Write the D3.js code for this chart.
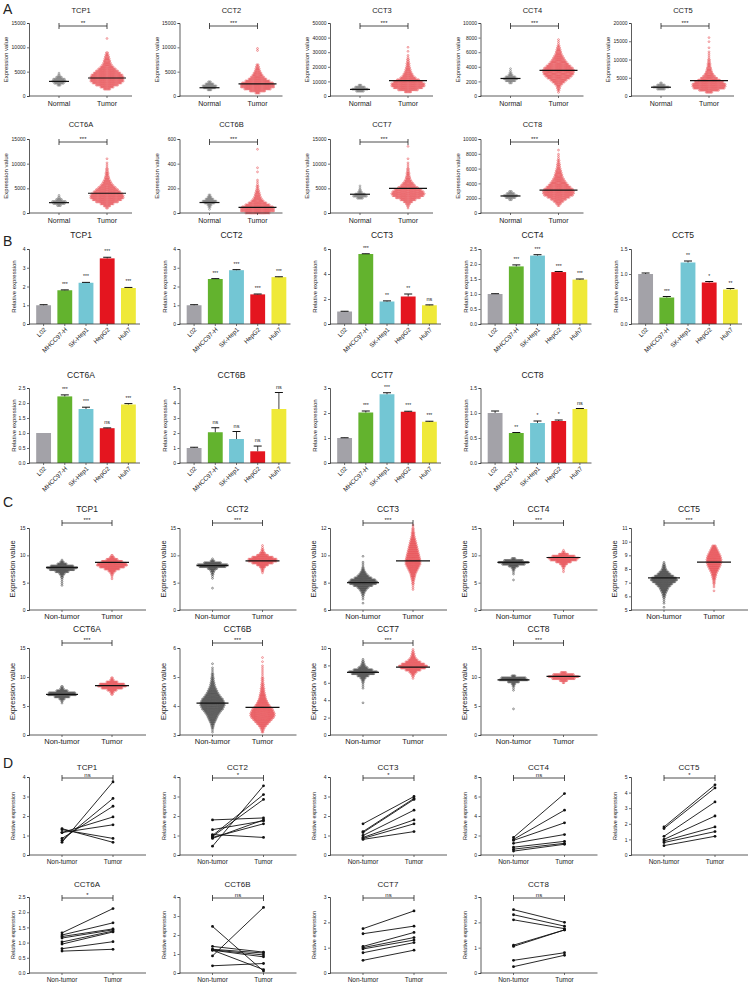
<!DOCTYPE html>
<html><head><meta charset="utf-8">
<script src="https://cdn.jsdelivr.net/npm/d3@7"></script>
<style>body{margin:0;background:#fff} text{font-family:"Liberation Sans",Arial,sans-serif;fill:#222}</style>
</head><body><svg id="c" width="750" height="987"></svg>
<script>
// ---------------- DATA ----------------
const genes = ["TCP1","CCT2","CCT3","CCT4","CCT5","CCT6A","CCT6B","CCT7","CCT8"];

// Panel A: expression (Normal vs Tumor), dot counts per value bin (bin = yMax/36)
const aYMax  = [15000,15000,50000,10000,20000,15000,600,15000,10000];
const aYStep = [5000,5000,10000,2000,5000,5000,200,5000,2000];
const aSig   = ["**","***","***","***","***","***","***","***","***"];
const aCats  = ["Normal","Tumor"];
const aNormalStart = [2200,1250,3300,1800,1900,1500,30,3000,1800];
const aNormalCounts = [
  [3,10,14,12,6,2,1],[4,12,14,8,3],[8,16,10,3],[3,10,14,10,4,2,1,1],[8,16,8,2],
  [4,12,14,6,2,1],[1,2,4,10,14,8,4,2],[6,14,10,4,2,1,1],[3,10,14,8,3]];
const aNormalMedian = [3000,1700,4500,2400,2400,2100,85,3800,2300];
const aTumorStart = [1400,600,2800,500,1000,1000,0,1000,1000];
const aTumorCounts = [
  [6,12,20,26,30,30,30,28,24,20,16,12,9,7,6,5,4,3,2,0,0,0,0,0,0,1],
  [4,14,24,30,30,28,22,16,12,9,7,5,4,3,2,0,0,0,0,0,0,1,1],
  [6,18,26,30,30,26,20,14,10,8,6,5,4,3,3,2,2,1,1,0,1,0,1],
  [1,2,3,4,7,11,15,20,24,27,28,28,26,22,18,15,12,10,8,6,5,4,3,2,1,1,1],
  [6,18,28,30,30,26,20,15,11,8,6,5,4,3,3,2,2,1,1,1,1,0,1,0,0,1,0,1],
  [2,6,12,20,26,30,30,28,24,20,16,12,9,7,5,4,3,3,2,2,1,1,1,0,1],
  [22,30,30,28,22,16,11,8,6,5,4,3,2,2,1,1,1,0,0,0,1,0,1,0,0,0,0,0,0,0,0,1],
  [1,2,4,8,14,22,28,30,28,24,18,13,10,7,5,4,3,3,2,2,1,1,1,0,1,0,0,0,0,0,1],
  [2,5,9,14,20,26,28,28,26,22,18,15,12,10,8,7,6,5,4,3,3,2,2,1,1,1,0,1]];
const aTumorMedian = [3700,2500,10500,3500,4200,4000,45,5000,3100];

// Panel B: relative expression in cell lines
const bCells  = ["L02","MHCC97-H","SK-Hep1","HepG2","Huh7"];
const bColors = ["#a3a2a8","#63b32e","#73c6d4","#e4151f","#efe938"];
const bYMax   = [4,4,6,2.5,1.5,2.5,5,3,1.5];
const bYStep  = [1,1,2,0.5,0.5,0.5,1,1,0.5];
const bValues = [
  [1.0,1.8,2.2,3.5,1.92],[1.0,2.4,2.87,1.58,2.5],[1.0,5.6,1.8,2.2,1.5],
  [1.0,1.92,2.28,1.73,1.48],[1.0,0.53,1.23,0.83,0.69],[1.0,2.22,1.8,1.16,1.95],
  [1.0,2.05,1.6,0.78,3.6],[1.0,2.02,2.75,2.05,1.65],[1.0,0.6,0.8,0.84,1.08]];
const bErrors = [
  [0.03,0.02,0.02,0.06,0.03],[0.03,0.02,0.03,0.02,0.02],[0.02,0.02,0.05,0.2,0.03],
  [0.01,0.05,0.03,0.02,0.02],[0.02,0.02,0.03,0.02,0.02],[0.0,0.05,0.06,0.01,0.03],
  [0.05,0.3,0.5,0.35,1.1],[0.01,0.06,0.06,0.02,0.02],[0.04,0.01,0.04,0.02,0.01]];
const bSig = [
  ["","***","***","***","***"],["","***","***","***","***"],["","***","**","**","ns"],
  ["","***","***","***","***"],["","***","**","*","**"],["","***","***","ns","***"],
  ["","ns","ns","ns","ns"],["","***","***","***","***"],["","**","*","*","ns"]];

// Panel C: expression (Non-tumor vs Tumor), dot counts per value bin (bin = range/42)
const cCats  = ["Non-tumor","Tumor"];
const cYMin  = [0,0,6,0,5,0,3,0,0];
const cYMax  = [15,15,12,15,11,15,6,10,15];
const cYStep = [5,5,2,5,1,5,1,2,5];
const cNTStart = [4.5,4.0,6.5,5.5,5.2,5.5,3.1,3.7,4.5];
const cNTCounts = [
  [1,1,1,1,2,3,6,14,26,32,24,10,4,1],
  [1,0,0,0,0,1,1,2,3,5,10,28,32,18,4,1],
  [1,0,1,1,2,3,5,8,12,20,28,30,26,18,12,8,5,3,2,1,1,1,0,0,1],
  [1,0,0,1,1,2,4,10,24,32,20,4],
  [1,0,1,1,1,2,3,4,6,8,10,14,18,24,28,26,20,14,10,6,4,3,2,1],
  [1,2,6,16,30,28,12,4,2],
  [1,1,2,3,4,6,8,10,12,15,18,22,24,26,26,24,22,18,15,12,10,8,6,5,4,3,3,2,2,1,1,1,0,1],
  [1,0,0,0,0,0,0,1,1,1,2,3,6,12,24,30,20,10,5,3,2,1],
  [1,0,0,0,0,0,0,0,0,1,1,2,4,12,30,26,4]];
const cNTMedian = [7.8,8.1,8.0,8.7,7.35,7.0,4.1,7.2,9.5];
const cTStart = [5.7,6.8,7.5,7.0,6.4,7.0,3.1,6.5,9.0];
const cTCounts = [
  [1,1,2,4,8,16,26,32,30,22,12,5,2],
  [1,2,3,6,12,22,30,30,22,12,6,3,2,1,1],
  [1,1,1,2,2,3,4,5,6,8,10,12,14,16,16,16,15,14,13,12,11,10,9,8,7,6,5,4,3,3,2,2,1,1],
  [1,1,2,4,8,16,28,32,24,10,3,1],
  [1,0,1,1,2,2,3,4,5,6,8,10,12,14,15,16,16,15,14,12,10,8,6,4],
  [2,4,10,22,30,26,12,4,2],
  [2,3,5,8,12,16,20,24,26,26,24,22,18,15,12,10,8,7,6,5,4,4,3,3,2,2,2,1,1,1,1,1,1,0,1,0,1],
  [1,2,4,8,16,26,30,24,16,10,6,4,3,2,1],
  [2,8,24,32,22,6]];
const cTMedian = [8.7,9.0,9.6,9.6,8.5,8.5,3.95,7.8,10.1];

// Panel D: paired relative expression
const dYMax  = [4,4,4,8,5,2.5,4,3,3];
const dYStep = [1,1,1,2,1,0.5,1,1,1];
const dSig   = ["ns","*","*","ns","*","*","ns","ns","ns"];
const dNonTumor = [
  [0.65,0.75,0.85,1.15,1.15,1.3,1.35],
  [1.8,1.3,1.05,1.0,0.95,0.9,0.85,0.45],
  [1.6,1.2,1.15,1.0,0.9,0.85,0.8],
  [1.8,1.6,1.5,1.2,0.8,0.6,0.4],
  [1.8,1.7,1.2,1.0,0.9,0.8,0.6],
  [1.32,1.25,1.2,1.15,1.02,0.95,0.8,0.72],
  [2.45,1.4,1.25,1.22,1.2,1.2,0.9,0.38],
  [1.75,1.55,1.05,1.0,0.95,0.8,0.5],
  [2.5,2.3,2.1,1.1,1.05,0.5,0.25]];
const dTumor = [
  [3.75,2.9,2.5,1.95,1.55,0.85,0.65],
  [1.9,1.75,0.9,3.1,2.85,1.6,1.8,3.55],
  [3.0,2.9,2.85,2.3,1.8,1.6,1.2],
  [6.3,4.6,3.3,2.1,1.4,1.2,1.1],
  [4.5,4.3,3.4,2.5,1.8,1.5,1.2],
  [2.12,1.65,1.45,1.42,1.38,1.35,1.03,0.78],
  [0.1,1.1,1.05,0.95,0.85,0.18,3.45,0.5],
  [2.45,1.85,1.6,1.4,1.3,1.2,0.9],
  [2.0,1.85,1.75,1.7,1.7,0.8,0.7]];

// ---------------- DRAWING ----------------
const svg = d3.select("#c");
const colLeft = [29,179.5,330,480.5,631];
const AX = "#333";

function yAxis(g, y, ticks, fmt, x0){
  const ax = g.append("g").attr("transform",`translate(${x0},0)`)
    .call(d3.axisLeft(y).tickValues(ticks).tickFormat(fmt).tickSize(2).tickPadding(1.5));
  ax.select(".domain").attr("stroke",AX).attr("stroke-width",0.8);
  ax.selectAll(".tick line").attr("stroke",AX).attr("stroke-width",0.7);
  ax.selectAll("text").attr("font-size",5).attr("fill","#333").style("font-family","Liberation Sans, Arial, sans-serif");
}
function xLine(g, x0, x1, yb, tickXs){
  g.append("line").attr("x1",x0).attr("x2",x1).attr("y1",yb).attr("y2",yb).attr("stroke",AX).attr("stroke-width",0.8);
  tickXs.forEach(tx=>g.append("line").attr("x1",tx).attr("x2",tx).attr("y1",yb).attr("y2",yb+2).attr("stroke",AX).attr("stroke-width",0.7));
}
function bracket(g, xa, xb, yb, label, fs){
  g.append("line").attr("x1",xa).attr("x2",xb).attr("y1",yb).attr("y2",yb).attr("stroke","#222").attr("stroke-width",0.8);
  [xa,xb].forEach(xx=>g.append("line").attr("x1",xx).attr("x2",xx).attr("y1",yb-3).attr("y2",yb+3).attr("stroke","#222").attr("stroke-width",0.8));
  g.append("text").attr("x",(xa+xb)/2).attr("y",yb-1.5).attr("text-anchor","middle").attr("font-size",fs).text(label);
}
function ticksOf(lo,hi,st){const t=[];for(let v=lo;v<=hi+1e-9;v+=st)t.push(+v.toFixed(4));return t;}
function swarm(g, y, cx, start, step, counts, color, spacing, r){
  const pts=[];
  counts.forEach((n,k)=>{for(let j=0;j<n;j++)pts.push({v:start+k*step,o:(j-(n-1)/2)*spacing});});
  g.selectAll(null).data(pts).enter().append("circle")
    .attr("cx",d=>cx+d.o).attr("cy",d=>y(d.v)).attr("r",r)
    .attr("fill","none").attr("stroke",color).attr("stroke-width",0.5);
}
function letter(t,x,y){svg.append("text").attr("x",x).attr("y",y).attr("font-size",14).text(t);}

// ---- Panel A ----
letter("A",3,14);
const aRows=[{title:13,top:23,bot:96},{title:127,top:139,bot:213}];
genes.forEach((gname,i)=>{
  const row=aRows[i<5?0:1], x0=colLeft[i%5];
  const g=svg.append("g");
  const y=d3.scaleLinear().domain([0,aYMax[i]]).range([row.bot,row.top]);
  const x=d3.scalePoint().domain(aCats).range([x0+30,x0+78]);
  const step=aYMax[i]/36;
  swarm(g,y,x("Normal"),aNormalStart[i],step,aNormalCounts[i],"#666",1.0,0.9);
  swarm(g,y,x("Tumor"),aTumorStart[i],step,aTumorCounts[i],"#e23a40",1.12,0.9);
  g.append("line").attr("x1",x("Normal")-10).attr("x2",x("Normal")+10).attr("y1",y(aNormalMedian[i])).attr("y2",y(aNormalMedian[i])).attr("stroke","#111").attr("stroke-width",1.2);
  g.append("line").attr("x1",x("Tumor")-19).attr("x2",x("Tumor")+19).attr("y1",y(aTumorMedian[i])).attr("y2",y(aTumorMedian[i])).attr("stroke","#111").attr("stroke-width",1.2);
  yAxis(g,y,ticksOf(0,aYMax[i],aYStep[i]),d3.format("d"),x0);
  xLine(g,x0,x0+103,row.bot,[x("Normal"),x("Tumor")]);
  aCats.forEach(c=>g.append("text").attr("x",x(c)).attr("y",row.bot+10).attr("text-anchor","middle").attr("font-size",7).text(c));
  g.append("text").attr("x",x0+52).attr("y",row.title).attr("text-anchor","middle").attr("font-size",7.5).text(gname);
  bracket(g,x("Normal"),x("Tumor"),row.top+3,aSig[i],6);
  g.append("text").attr("transform",`translate(${x0-21},${(row.top+row.bot)/2}) rotate(-90)`).attr("text-anchor","middle").attr("font-size",6).text("Expression value");
});

// ---- Panel B ----
letter("B",3,246);
const bRows=[{title:238,top:249,bot:324},{title:378,top:388,bot:463}];
genes.forEach((gname,i)=>{
  const row=bRows[i<5?0:1], x0=colLeft[i%5];
  const g=svg.append("g");
  const y=d3.scaleLinear().domain([0,bYMax[i]]).range([row.bot,row.top]);
  const x=d3.scaleBand().domain(bCells).range([x0+4,x0+110]).paddingInner(0.3).paddingOuter(0.15);
  bCells.forEach((c,k)=>{
    const v=bValues[i][k], e=bErrors[i][k];
    g.append("rect").attr("x",x(c)).attr("width",x.bandwidth()).attr("y",y(v)).attr("height",row.bot-y(v)).attr("fill",bColors[k]);
    const cx=x(c)+x.bandwidth()/2;
    if(e>0){
      g.append("line").attr("x1",cx).attr("x2",cx).attr("y1",y(v)).attr("y2",y(v+e)).attr("stroke","#111").attr("stroke-width",0.8);
      g.append("line").attr("x1",cx-4).attr("x2",cx+4).attr("y1",y(v+e)).attr("y2",y(v+e)).attr("stroke","#111").attr("stroke-width",1);
    }
    if(bSig[i][k]) g.append("text").attr("x",cx).attr("y",y(v+e)-4).attr("text-anchor","middle").attr("font-size",bSig[i][k]==="ns"?5.5:5).text(bSig[i][k]);
    g.append("text").attr("transform",`translate(${cx+3},${row.bot+6}) rotate(-45)`).attr("text-anchor","end").attr("font-size",6.3).text(c);
  });
  yAxis(g,y,ticksOf(0,bYMax[i],bYStep[i]),bYStep[i]<1?d3.format(".1f"):d3.format("d"),x0);
  xLine(g,x0,x0+111,row.bot,bCells.map(c=>x(c)+x.bandwidth()/2));
  g.append("text").attr("x",x0+52).attr("y",row.title).attr("text-anchor","middle").attr("font-size",8.5).text(gname);
  g.append("text").attr("transform",`translate(${x0-13},${(row.top+row.bot)/2}) rotate(-90)`).attr("text-anchor","middle").attr("font-size",6).text("Relative expression");
});

// ---- Panel C ----
letter("C",3,507);
const cRows=[{title:512,top:528,bot:610},{title:632,top:648,bot:735}];
genes.forEach((gname,i)=>{
  const row=cRows[i<5?0:1], x0=colLeft[i%5];
  const g=svg.append("g");
  const y=d3.scaleLinear().domain([cYMin[i],cYMax[i]]).range([row.bot,row.top]);
  const x=d3.scalePoint().domain(cCats).range([x0+33,x0+83]);
  const step=(cYMax[i]-cYMin[i])/42;
  swarm(g,y,x("Non-tumor"),cNTStart[i],step,cNTCounts[i],"#333",0.95,0.9);
  swarm(g,y,x("Tumor"),cTStart[i],step,cTCounts[i],"#e23a40",0.95,0.9);
  g.append("line").attr("x1",x("Non-tumor")-16).attr("x2",x("Non-tumor")+16).attr("y1",y(cNTMedian[i])).attr("y2",y(cNTMedian[i])).attr("stroke","#111").attr("stroke-width",1.2);
  g.append("line").attr("x1",x("Tumor")-17).attr("x2",x("Tumor")+17).attr("y1",y(cTMedian[i])).attr("y2",y(cTMedian[i])).attr("stroke","#111").attr("stroke-width",1.2);
  yAxis(g,y,ticksOf(cYMin[i],cYMax[i],cYStep[i]),d3.format("d"),x0);
  xLine(g,x0,x0+117,row.bot,[x("Non-tumor"),x("Tumor")]);
  cCats.forEach(c=>g.append("text").attr("x",x(c)).attr("y",row.bot+9).attr("text-anchor","middle").attr("font-size",7.5).text(c));
  g.append("text").attr("x",x0+58).attr("y",row.title).attr("text-anchor","middle").attr("font-size",8.5).text(gname);
  bracket(g,x("Non-tumor"),x("Tumor"),row.top-5,"***",6);
  g.append("text").attr("transform",`translate(${x0-14},${(row.top+row.bot)/2}) rotate(-90)`).attr("text-anchor","middle").attr("font-size",7.5).text("Expression value");
});

// ---- Panel D ----
letter("D",3,768);
const dRows=[{title:770,top:777,bot:855},{title:887,top:897,bot:973}];
genes.forEach((gname,i)=>{
  const row=dRows[i<5?0:1], x0=colLeft[i%5];
  const g=svg.append("g");
  const y=d3.scaleLinear().domain([0,dYMax[i]]).range([row.bot,row.top]);
  const x=d3.scalePoint().domain(cCats).range([x0+33,x0+84]);
  dNonTumor[i].forEach((v,k)=>{
    const t=dTumor[i][k];
    g.append("line").attr("x1",x("Non-tumor")).attr("x2",x("Tumor")).attr("y1",y(v)).attr("y2",y(t)).attr("stroke","#111").attr("stroke-width",0.9);
    g.append("circle").attr("cx",x("Non-tumor")).attr("cy",y(v)).attr("r",1.4).attr("fill","#111");
    g.append("circle").attr("cx",x("Tumor")).attr("cy",y(t)).attr("r",1.4).attr("fill","#111");
  });
  yAxis(g,y,ticksOf(0,dYMax[i],dYStep[i]),dYStep[i]<1?d3.format(".1f"):d3.format("d"),x0);
  xLine(g,x0,x0+117,row.bot,[x("Non-tumor"),x("Tumor")]);
  cCats.forEach(c=>g.append("text").attr("x",x(c)).attr("y",row.bot+9).attr("text-anchor","middle").attr("font-size",6.5).text(c));
  g.append("text").attr("x",x0+58).attr("y",row.title).attr("text-anchor","middle").attr("font-size",8).text(gname);
  bracket(g,x("Non-tumor"),x("Tumor"),row.top+1,dSig[i],6);
  g.append("text").attr("transform",`translate(${x0-14},${(row.top+row.bot)/2}) rotate(-90)`).attr("text-anchor","middle").attr("font-size",5.5).text("Relative expression");
});
</script></body></html>
